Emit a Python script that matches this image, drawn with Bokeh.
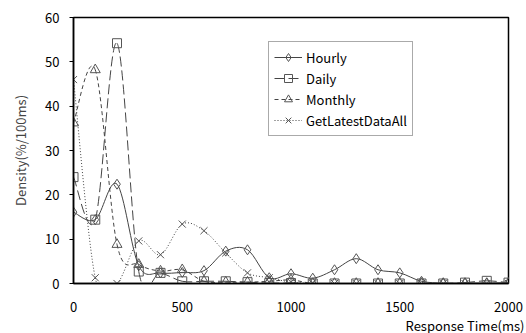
from bokeh.plotting import figure
from bokeh.models import Range1d, Legend, LegendItem, Title, FixedTicker
from bokeh.embed import file_html
from bokeh.resources import INLINE

# ---- data (response time in ms, density in %/100ms) ----
times = [0, 100, 200, 300, 400, 500, 600, 700, 800, 900, 1000,
         1100, 1200, 1300, 1400, 1500, 1600, 1700, 1800, 1900, 2000]
hourly = [16.1, 14.4, 22.4, 4.0, 2.4, 2.5, 2.9, 7.3, 7.6, 1.3, 2.2,
          1.2, 3.1, 5.6, 3.1, 2.4, 0.5, 0.1, 0.1, 0.1, 0.2]
daily = [24.0, 14.4, 54.2, 2.7, 2.4, 0.5, 0.5, 0.5, 0.3, 0.1, 0.1,
         0.0, 0.0, 0.0, 0.0, 0.0, 0.0, 0.0, 0.2, 0.6, 0.2]
monthly = [36.2, 48.2, 8.8, 4.3, 2.8, 3.1, 0.5, 0.3, 0.3, 0.5, 0.8,
           0.0, 0.0, 0.0, 0.0, 0.0, 0.0, 0.0, 0.0, 0.0, 0.0]
latest = [46.0, 1.3, 0.0, 9.6, 6.5, 13.4, 11.9, 6.9, 2.4, 1.3, 0.3,
          0.0, 0.0, 0.0, 0.0, 0.0, 0.0, 0.0, 0.0, 0.0, 0.0]
series_names = ["Hourly", "Daily", "Monthly", "GetLatestDataAll"]
x_ticks = [0, 500, 1000, 1500, 2000]
y_ticks = [0, 10, 20, 30, 40, 50, 60]

FONT = "Noto Sans CJK JP"

p = figure(width=526, height=333, output_backend="svg", toolbar_location=None,
           x_range=Range1d(0, 2000), y_range=Range1d(0, 60),
           min_border_left=73, min_border_right=18, min_border_top=17,
           min_border_bottom=0)
p.grid.visible = False
p.outline_line_color = "black"
p.outline_line_width = 1.5

p.xaxis.ticker = FixedTicker(ticks=x_ticks)
p.yaxis.ticker = FixedTicker(ticks=y_ticks)
for ax in (p.xaxis[0], p.yaxis[0]):
    ax.axis_line_color = "black"
    ax.axis_line_width = 1.5
    ax.major_tick_line_color = "black"
    ax.major_tick_in = 0
    ax.major_tick_out = 4
    ax.minor_tick_line_color = None
    ax.major_label_text_font = FONT
    ax.major_label_text_font_size = "13px"
    ax.major_label_text_color = "black"
p.xaxis.major_tick_out = 0
p.xaxis.major_label_standoff = 18
p.yaxis.major_label_standoff = 10
p.yaxis.axis_label = "Density(%/100ms)"
p.yaxis.axis_label_text_font = FONT
p.yaxis.axis_label_text_font_size = "13px"
p.yaxis.axis_label_text_font_style = "normal"
p.yaxis.axis_label_standoff = 12

xlabel = Title(text="Response Time(ms)", align="right", offset=-16,
               text_font=FONT, text_font_size="13px",
               text_font_style="normal", text_color="black",
               standoff=-2)
p.add_layout(xlabel, "below")


def smooth(xs, ys):
    n = len(xs)
    x0, y0, x1, y1, cx0, cy0, cx1, cy1 = ([] for _ in range(8))
    for i in range(n - 1):
        pa = max(i - 1, 0)
        pb = min(i + 2, n - 1)
        x0.append(xs[i]); y0.append(ys[i])
        x1.append(xs[i + 1]); y1.append(ys[i + 1])
        cx0.append(xs[i] + (xs[i + 1] - xs[pa]) / 6.0)
        cy0.append(ys[i] + (ys[i + 1] - ys[pa]) / 6.0)
        cx1.append(xs[i + 1] - (xs[pb] - xs[i]) / 6.0)
        cy1.append(ys[i + 1] - (ys[pb] - ys[i]) / 6.0)
    return dict(x0=x0, y0=y0, x1=x1, y1=y1, cx0=cx0, cy0=cy0, cx1=cx1, cy1=cy1)


styles = [
    (hourly, "solid", "diamond", 10),
    (daily, "10 4", "square", 9),
    (monthly, "4 3", "triangle", 10),
    (latest, "1 2", "x", 10),
]
line_color = "#444444"
marker_color = "#555555"
items = []
for name, (ys, dash, marker, size) in zip(series_names, styles):
    src = smooth(times, ys)
    p.bezier(x0="x0", y0="y0", x1="x1", y1="y1", cx0="cx0", cy0="cy0",
             cx1="cx1", cy1="cy1", source=src, line_color=line_color,
             line_width=1, line_dash=dash)
    lg = p.line(times, ys, line_color=line_color, line_width=1,
                line_dash=dash, visible=False)
    sc = p.scatter(times, ys, marker=marker, size=size, fill_color="white",
                   fill_alpha=0.0, line_color=marker_color, line_width=1)
    items.append(LegendItem(label=name, renderers=[lg, sc]))

legend = Legend(items=items, location=(195, 147), orientation="vertical",
                label_text_font=FONT, label_text_font_size="13px",
                label_text_color="black", glyph_width=28, glyph_height=20,
                label_height=20, spacing=1, padding=5, margin=0,
                label_standoff=4, border_line_color="#555555",
                border_line_width=1, background_fill_alpha=1.0)
p.add_layout(legend, "center")

open("out.html", "w").write(file_html(p, INLINE))
